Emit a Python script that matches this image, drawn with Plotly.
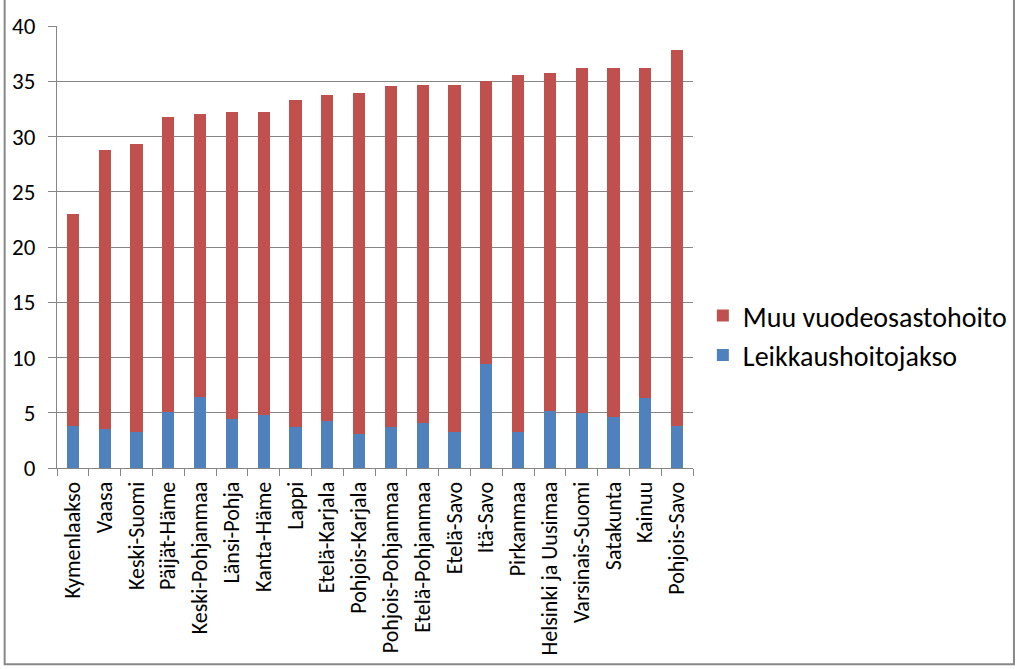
import plotly.graph_objects as go

regions = ["Kymenlaakso", "Vaasa", "Keski-Suomi", "Päijät-Häme", "Keski-Pohjanmaa",
           "Länsi-Pohja", "Kanta-Häme", "Lappi", "Etelä-Karjala", "Pohjois-Karjala",
           "Pohjois-Pohjanmaa", "Etelä-Pohjanmaa", "Etelä-Savo", "Itä-Savo", "Pirkanmaa",
           "Helsinki ja Uusimaa", "Varsinais-Suomi", "Satakunta", "Kainuu", "Pohjois-Savo"]

leikkaus = [3.80, 3.56, 3.26, 5.03, 6.47, 4.40, 4.76, 3.74, 4.22, 3.11,
            3.68, 4.04, 3.29, 9.37, 3.26, 5.15, 4.94, 4.58, 6.32, 3.83]

totals = [22.99, 28.80, 29.34, 31.78, 32.08, 32.20, 32.26, 33.33, 33.80, 33.95,
          34.55, 34.67, 34.67, 35.06, 35.53, 35.74, 36.16, 36.22, 36.22, 37.86]

muu = [round(t - l, 2) for t, l in zip(totals, leikkaus)]

yticks = [0, 5, 10, 15, 20, 25, 30, 35, 40]

FONT = "Calibri, Carlito, Lato, sans-serif"

fig = go.Figure()
fig.add_trace(go.Bar(x=regions, y=leikkaus, name="Leikkaushoitojakso",
                     marker=dict(color="#4F81BD", line=dict(width=0)),
                     legendgroup="a"))
fig.add_trace(go.Bar(x=regions, y=muu, name="Muu vuodeosastohoito",
                     marker=dict(color="#C0504D", line=dict(width=0)),
                     legendgroup="b"))

fig.update_layout(
    barmode="stack",
    bargap=0.62,
    width=1024, height=669,
    margin=dict(l=53, r=327, t=21, b=201),
    paper_bgcolor="white", plot_bgcolor="white",
    font=dict(family=FONT, color="#000000"),
    showlegend=True,
    legend=dict(traceorder="reversed", x=1.0155, xanchor="left", xref="paper",
                y=0.30, yanchor="middle", font=dict(size=28, family=FONT),
                tracegroupgap=6, itemwidth=30, bgcolor="rgba(0,0,0,0)"),
    xaxis=dict(type="category", tickangle=-90, tickson="boundaries",
               ticks="outside", ticklen=7, tickcolor="#868686",
               showline=True, linecolor="#868686", linewidth=1,
               showgrid=False, tickfont=dict(size=22, family=FONT),
               ticklabelstandoff=4, fixedrange=True),
    yaxis=dict(range=[0, 40], tickvals=yticks, ticks="outside", ticklen=8,
               tickcolor="#868686", showline=True, linecolor="#868686",
               showgrid=True, gridcolor="#868686", gridwidth=1,
               zeroline=False, tickfont=dict(size=23, family=FONT),
               ticklabelstandoff=8, fixedrange=True),
    shapes=[dict(type="rect", xref="paper", yref="paper", x0=-53/644, x1=(1022-53)/644,
                 y0=-199/448, y1=(668-21)/448, line=dict(color="#888888", width=2),
                 fillcolor="rgba(0,0,0,0)", layer="above")],
)

fig.write_html("out.html")
